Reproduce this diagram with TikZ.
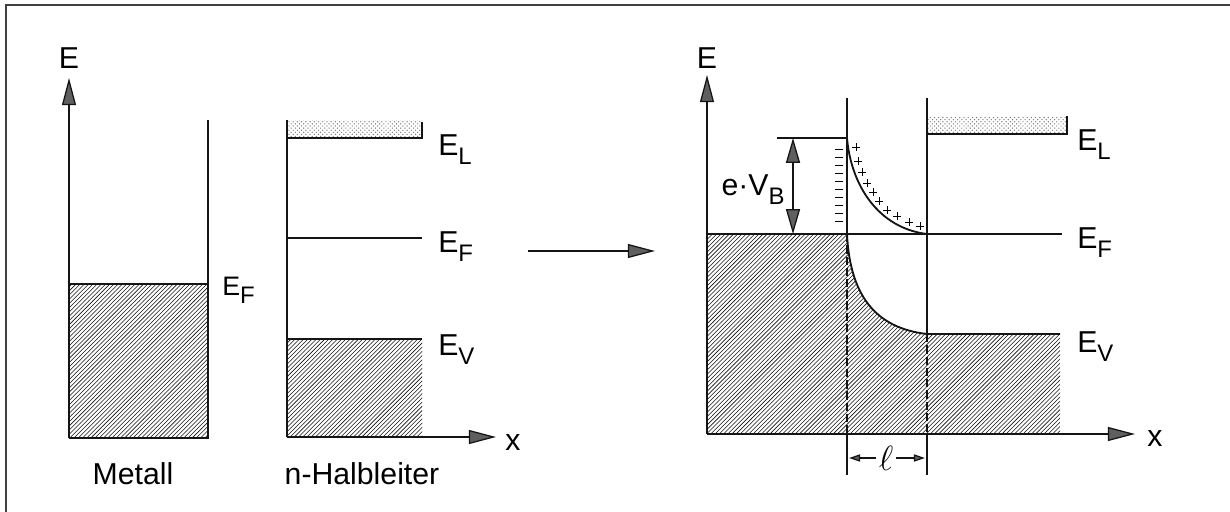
\documentclass[tikz,border=0pt]{standalone}
\usepackage{fontspec}
\setmainfont{Liberation Sans}
\usepackage{xcolor}
\usepackage{tikz}
\usetikzlibrary{arrows.meta, patterns}
\definecolor{mydark}{RGB}{20,20,20}
\definecolor{mytip}{RGB}{95,95,95}
\definecolor{mydots}{RGB}{120,120,120}
\newcommand{\idx}[1]{\raisebox{-0.33em}{\fontsize{17}{20}\selectfont #1}}
\tikzset{
  lbl/.style={inner sep=0pt, font=\fontsize{21.5}{26}\selectfont},
  smalllbl/.style={inner sep=0pt, font=\fontsize{19}{23}\selectfont},
  level/.style={line width=1.3pt, color=mydark},
  thinline/.style={line width=0.9pt, color=mydark},
  axis/.style={-{Triangle[length=0.68cm, width=0.35cm, fill=mytip]},
    line width=0.9pt, color=mydark},
  dimarrow/.style={{Triangle[length=0.62cm, width=0.35cm, fill=mytip]}-{Triangle[length=0.62cm, width=0.35cm, fill=mytip]},
    line width=0.9pt, color=mydark},
  lenarrow/.style={-{Triangle[length=0.28cm, width=0.18cm, fill=mytip]},
    line width=0.9pt, color=mydark},
  hatch/.style={pattern=north east lines, pattern color=mydark},
  stipple/.style={pattern=crosshatch dots, pattern color=mydots},
  dashline/.style={line width=0.8pt, dash pattern=on 6pt off 2pt, color=mydark}
}

\begin{document}
\begin{tikzpicture}[x=0.025cm, y=-0.025cm]
  \useasboundingbox (0,0) rectangle (1230,512);
  % Frame
  \draw[line width=1.2pt, color=black!75] (1230,5) -- (6,5) -- (6,512);

  % Metal
  \fill[hatch] (69,284) rectangle (208,438);
  \draw[level] (69,284) -- (208,284);
  \draw[thinline] (208,120) -- (208,438) -- (69,438);
  \draw[axis] (69,438) -- (69,78);
  \node[lbl] (Emet) at (69,58) {E};
  \node[smalllbl, anchor=base west] (EFmet) at (222,295) {E\idx{F}};
  \node[lbl, anchor=base] (metall) at (133,484) {Metall};

  % n-type semiconductor
  \fill[stipple] (287,120) rectangle (422,138);
  \fill[hatch] (287,339) rectangle (422,437);
  \draw[level] (287,138) -- (422,138) -- (422,122);
  \draw[level] (287,238) -- (422,238);
  \draw[level] (287,339) -- (422,339);
  \draw[thinline] (287,120) -- (287,437);
  \draw[axis] (287,437) -- (496,437);
  \node[lbl, anchor=base west] (ELsc) at (438,155) {E\idx{L}};
  \node[lbl, anchor=base west] (EFsc) at (438,252) {E\idx{F}};
  \node[lbl, anchor=base west] (EVsc) at (438,355) {E\idx{V}};
  \node[lbl, anchor=base] (xsc) at (513,450) {x};
  \node[lbl, anchor=base] (halbl) at (362,484) {n-Halbleiter};

  % Contact formation
  \coordinate (before) at (528,251);
  \coordinate (after) at (655,251);
  \draw[axis] (before) -- (after);

  % Metal-semiconductor contact
  \coordinate (ifc) at (847,234);
  \coordinate (edge) at (927,334);
  \fill[hatch] (707,234) -- (ifc) .. controls (850,295) and (875,328) .. (edge)
    -- (1060,334) -- (1060,434) -- (707,434) -- cycle;
  \fill[stipple] (927,117) rectangle (1067,134);
  \draw[level] (927,134) -- (1067,134) -- (1067,116);
  \draw[level] (707,234) -- (1062,234);
  \draw[level] (ifc) .. controls (850,295) and (875,328) .. (edge) -- (1060,334);
  \draw[level] (777,138) -- (847,138) .. controls (851,185) and (878,228) .. (927,234);

  % Space charge region
  \draw[thinline] (847,98) -- (ifc);
  \draw[dashline] (ifc) -- (847,434);
  \draw[thinline] (847,434) -- (847,475);
  \draw[thinline] (927,98) -- (edge);
  \draw[dashline] (edge) -- (927,434);
  \draw[thinline] (927,434) -- (927,475);
  \foreach \i in {0,...,9}
    \draw[line width=0.7pt] (835,149+8*\i) -- (843,149+8*\i);
  \foreach \px/\py in {856/147, 858/161, 862/172, 867/183, 873/192,
                       879/201, 887/210, 897/216, 909/222, 920/226}
    \draw[line width=0.7pt] (\px-4,\py) -- (\px+4,\py) (\px,\py-4) -- (\px,\py+4);

  % Axes and labels
  \draw[axis] (707,434) -- (707,75);
  \draw[axis] (707,434) -- (1135,434);
  \draw[dimarrow] (793,138) -- (793,234);
  \node[lbl] (Ecnt) at (707,58) {E};
  \node[lbl, anchor=base] (eVB) at (753,195) {e·V\idx{B}};
  \node[lbl, anchor=base west] (ELct) at (1077,150) {E\idx{L}};
  \node[lbl, anchor=base west] (EFct) at (1077,248) {E\idx{F}};
  \node[lbl, anchor=base west] (EVct) at (1077,352) {E\idx{V}};
  \node[lbl, anchor=base] (xct) at (1155,446) {x};
  \node[inner sep=0pt, font=\fontsize{28}{32}\selectfont] (len) at (886,458) {$\ell$};
  \draw[lenarrow] (len.west) ++(-3,0) -- (849,458);
  \draw[lenarrow] (len.east) ++(3,0) -- (925,458);
\end{tikzpicture}
\end{document}
